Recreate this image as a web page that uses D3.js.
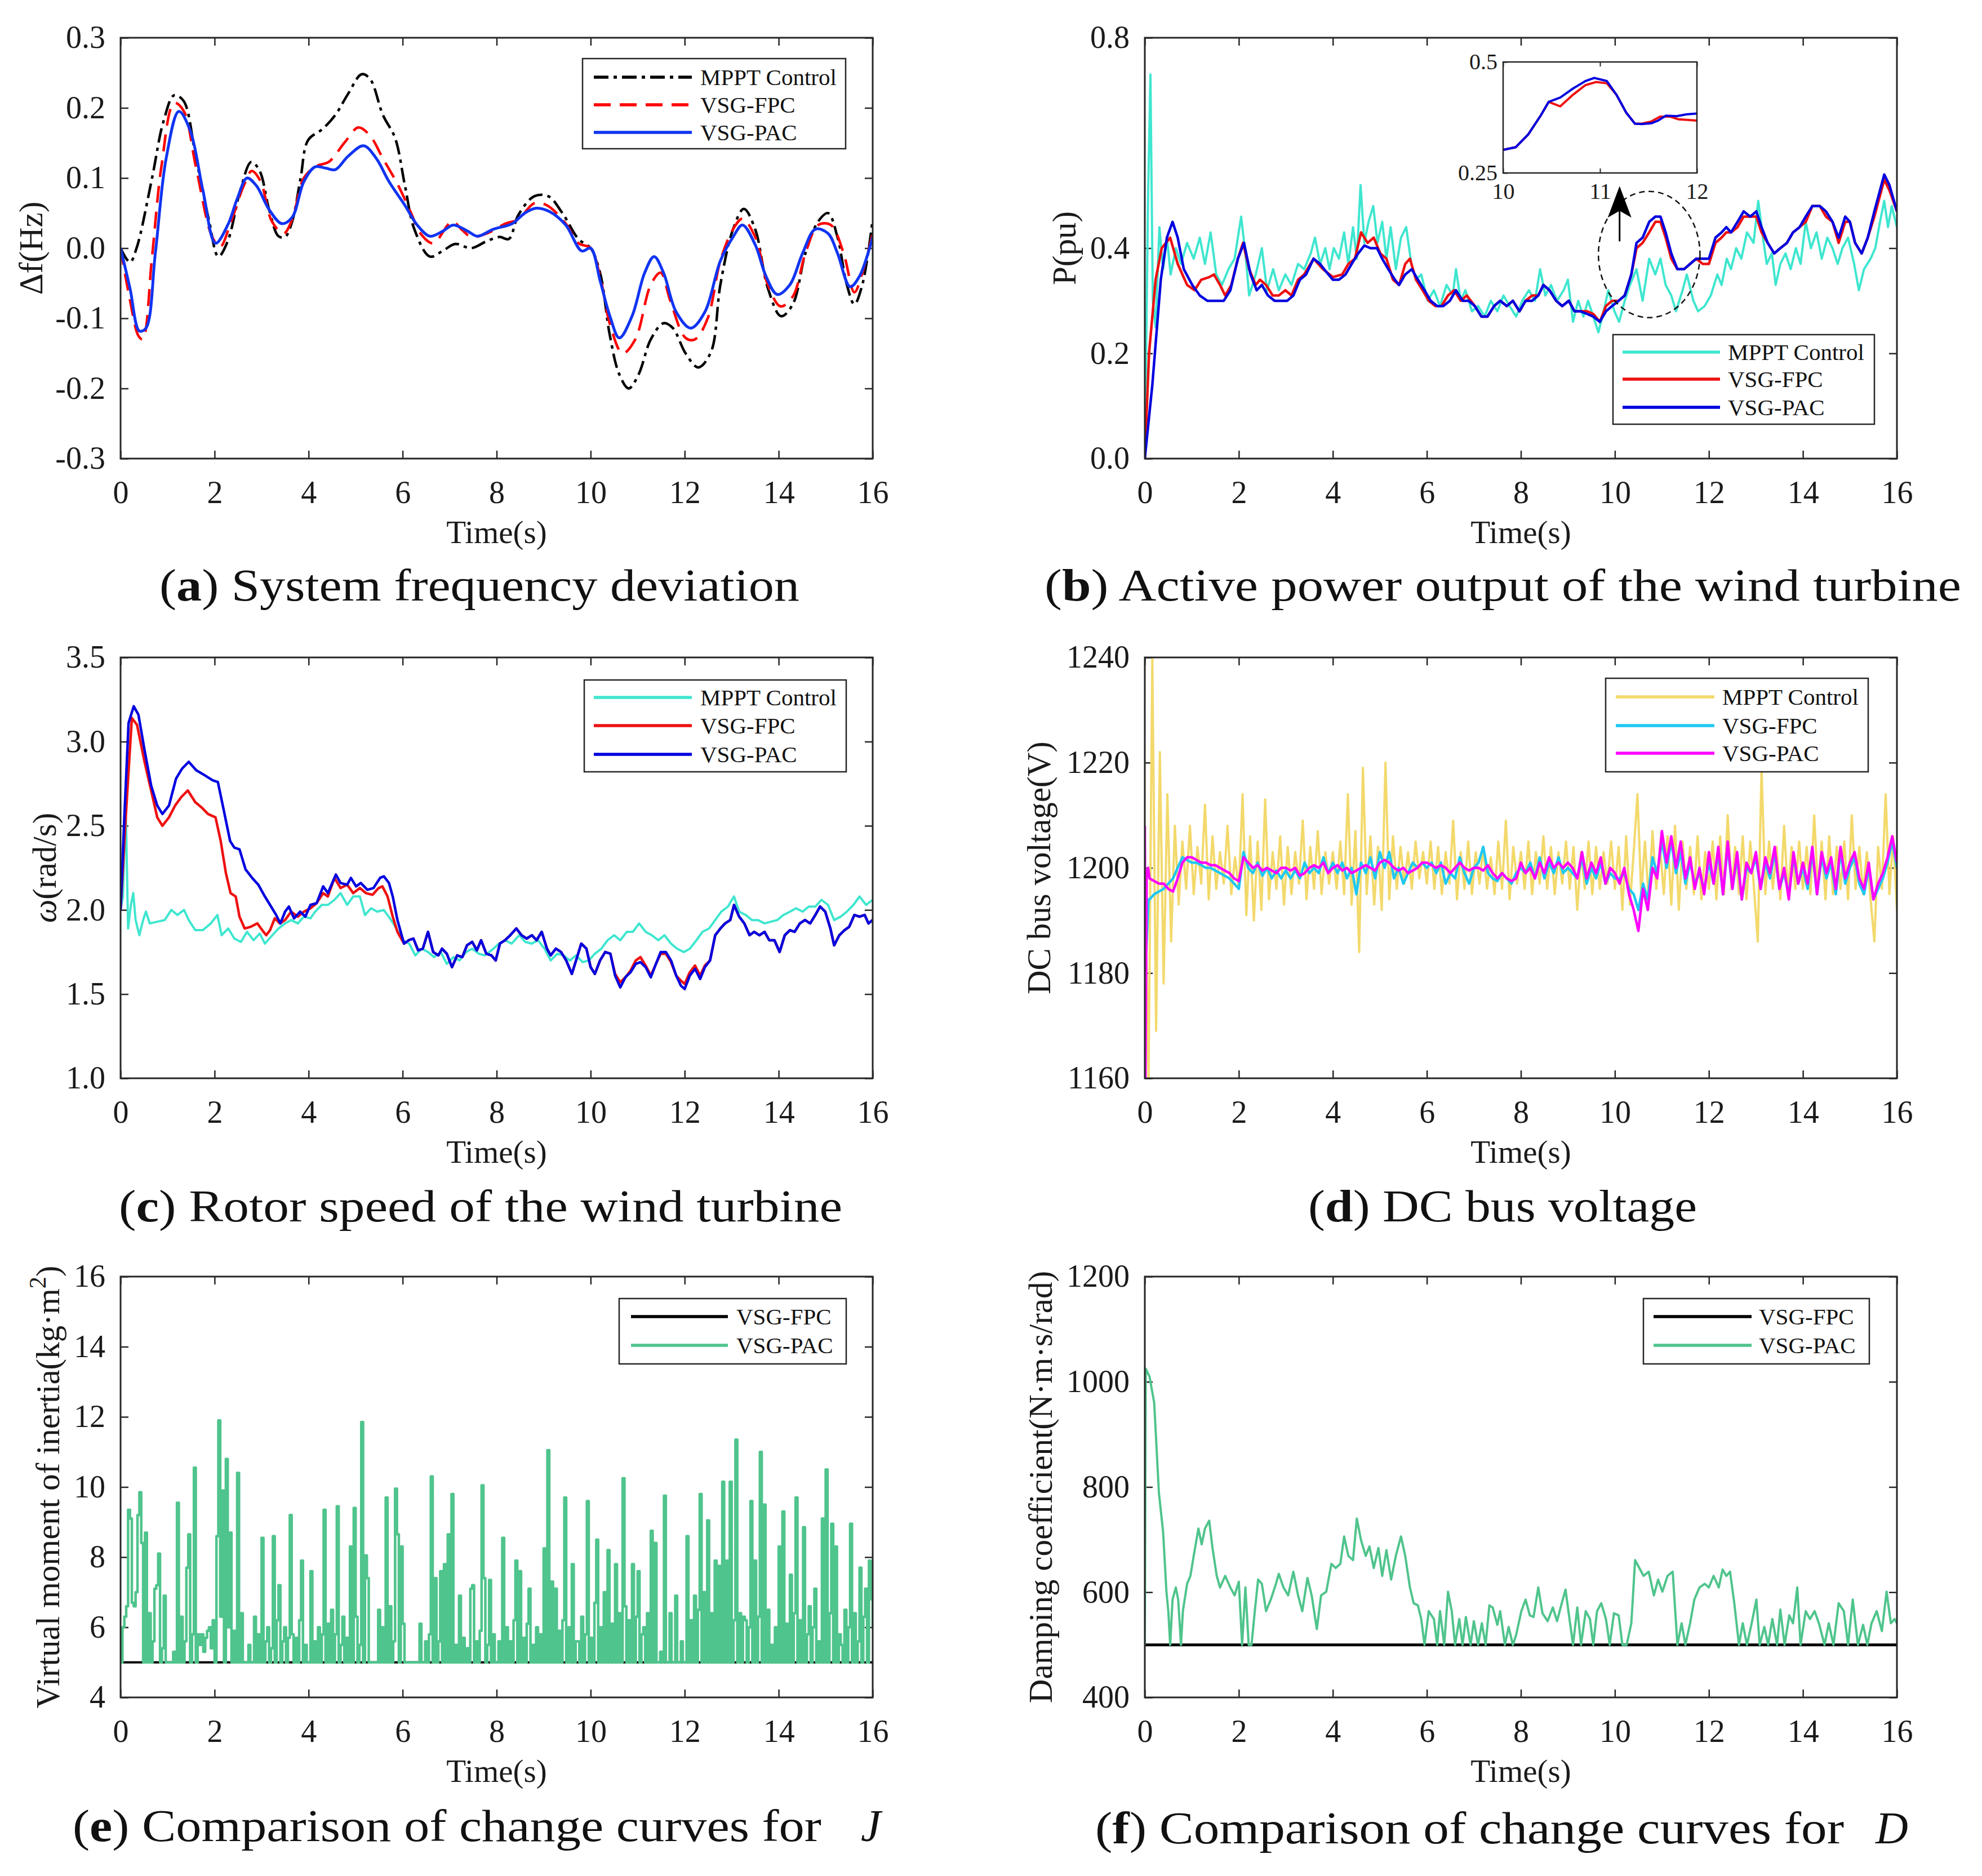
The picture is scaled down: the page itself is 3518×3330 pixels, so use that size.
<!DOCTYPE html>
<html>
<head>
<meta charset="utf-8">
<script src="https://cdn.jsdelivr.net/npm/d3@7"></script>
<style>
body { margin: 0; background: #fff; }
</style>
</head>
<body>
<svg id="fig"></svg>
<script>
// ---------- shared ticks ----------
var timeTicks = [0, 2, 4, 6, 8, 10, 12, 14, 16];

// ---------- (a) system frequency deviation, [t, Hz] ----------
var freqMppt = [[0,0],[0.2,-0.02],[0.34,0],[0.67,0.1],[0.91,0.18],[1.14,0.218],[1.34,0.21],[1.6,0.13],[1.88,0.04],[2.08,-0.012],[2.28,0.01],[2.55,0.083],[2.78,0.123],[2.96,0.11],[3.16,0.055],[3.36,0.017],[3.5,0.016],[3.65,0.038],[3.83,0.1],[3.99,0.154],[4.3,0.17],[4.57,0.19],[4.84,0.22],[5.13,0.248],[5.31,0.241],[5.58,0.19],[5.84,0.157],[6.05,0.089],[6.25,0.027],[6.58,-0.012],[6.85,-0.004],[7.12,0.006],[7.46,0],[7.79,0.01],[8.06,0.016],[8.26,0.013],[8.46,0.047],[8.8,0.074],[9.1,0.074],[9.4,0.05],[9.74,0.013],[10,0],[10.2,-0.035],[10.41,-0.125],[10.61,-0.18],[10.81,-0.2],[11.02,-0.18],[11.28,-0.13],[11.55,-0.107],[11.75,-0.114],[12.02,-0.15],[12.29,-0.17],[12.56,-0.148],[12.76,-0.052],[13.03,0.027],[13.26,0.056],[13.5,0.027],[13.77,-0.057],[14.05,-0.097],[14.3,-0.08],[14.57,-0.007],[14.84,0.038],[15.05,0.05],[15.25,0.016],[15.45,-0.052],[15.61,-0.08],[15.78,-0.052],[16,0.041]];
var freqFpc = [[0,0],[0.2,-0.074],[0.38,-0.125],[0.47,-0.13],[0.67,-0.012],[0.87,0.117],[1.14,0.207],[1.34,0.196],[1.6,0.117],[1.95,0.016],[2.12,0.002],[2.35,0.038],[2.62,0.089],[2.79,0.11],[2.98,0.095],[3.22,0.038],[3.47,0.021],[3.65,0.041],[3.9,0.1],[4.16,0.117],[4.43,0.123],[4.77,0.151],[5.06,0.172],[5.31,0.16],[5.58,0.128],[5.91,0.089],[6.18,0.05],[6.38,0.021],[6.65,0.007],[7.05,0.038],[7.25,0.027],[7.46,0.016],[7.79,0.021],[8.19,0.035],[8.46,0.041],[8.8,0.064],[9.07,0.061],[9.47,0.035],[9.74,0.007],[10,0],[10.2,-0.04],[10.41,-0.108],[10.68,-0.15],[10.95,-0.13],[11.28,-0.052],[11.49,-0.035],[11.69,-0.074],[12.02,-0.128],[12.22,-0.13],[12.49,-0.1],[12.76,-0.018],[13.03,0.027],[13.23,0.042],[13.5,0.016],[13.77,-0.052],[14.04,-0.083],[14.3,-0.069],[14.57,-0.007],[14.84,0.033],[15.11,0.033],[15.38,-0.007],[15.61,-0.063],[15.78,-0.035],[16,0.021]];
var freqPac = [[0,0],[0.2,-0.057],[0.4,-0.118],[0.54,-0.114],[0.74,-0.007],[0.97,0.128],[1.24,0.195],[1.48,0.168],[1.75,0.083],[2.02,0.007],[2.28,0.033],[2.49,0.072],[2.69,0.1],[2.89,0.089],[3.16,0.055],[3.43,0.035],[3.65,0.044],[3.9,0.095],[4.14,0.116],[4.37,0.114],[4.57,0.112],[4.84,0.131],[5.17,0.146],[5.44,0.128],[5.71,0.095],[6.05,0.061],[6.31,0.033],[6.58,0.017],[6.85,0.024],[7.08,0.033],[7.39,0.024],[7.59,0.017],[7.93,0.027],[8.33,0.035],[8.6,0.05],[8.84,0.057],[9.13,0.052],[9.47,0.033],[9.81,-0.004],[10,0],[10.2,-0.046],[10.41,-0.097],[10.61,-0.128],[10.88,-0.097],[11.15,-0.035],[11.35,-0.012],[11.55,-0.035],[11.82,-0.091],[12.13,-0.114],[12.43,-0.091],[12.76,-0.018],[13.03,0.016],[13.23,0.033],[13.5,0.005],[13.73,-0.04],[13.97,-0.066],[14.24,-0.052],[14.51,-0.007],[14.78,0.027],[15.05,0.021],[15.25,-0.007],[15.52,-0.055],[15.72,-0.04],[16,0.016]];
var freqTicks = [-0.3, -0.2, -0.1, 0, 0.1, 0.2, 0.3];

// ---------- (b) active power, [t, pu] ----------
var powMppt = [[0,0],[0.07,0.5],[0.12,0.73],[0.17,0.3],[0.23,0.25],[0.31,0.44],[0.39,0.36],[0.47,0.42],[0.55,0.35],[0.66,0.40],[0.77,0.37],[0.9,0.41],[1.04,0.38],[1.17,0.42],[1.28,0.37],[1.4,0.43],[1.52,0.35],[1.64,0.33],[1.78,0.36],[1.91,0.38],[2.05,0.46],[2.14,0.39],[2.22,0.31],[2.36,0.35],[2.49,0.40],[2.6,0.32],[2.73,0.36],[2.85,0.32],[2.99,0.35],[3.12,0.33],[3.26,0.37],[3.39,0.36],[3.53,0.39],[3.62,0.42],[3.73,0.37],[3.84,0.40],[3.93,0.36],[4.02,0.40],[4.13,0.38],[4.24,0.43],[4.33,0.37],[4.43,0.44],[4.51,0.38],[4.59,0.52],[4.67,0.41],[4.76,0.45],[4.86,0.48],[4.95,0.41],[5.05,0.45],[5.14,0.38],[5.23,0.44],[5.34,0.36],[5.45,0.42],[5.56,0.44],[5.67,0.37],[5.77,0.34],[5.88,0.35],[6.02,0.30],[6.15,0.32],[6.28,0.29],[6.42,0.33],[6.55,0.31],[6.62,0.36],[6.72,0.30],[6.82,0.32],[6.96,0.28],[7.09,0.29],[7.23,0.27],[7.36,0.30],[7.5,0.28],[7.63,0.31],[7.76,0.29],[7.9,0.27],[8.03,0.30],[8.17,0.32],[8.3,0.30],[8.41,0.36],[8.52,0.31],[8.64,0.33],[8.77,0.30],[8.91,0.32],[9.0,0.34],[9.11,0.26],[9.22,0.30],[9.33,0.27],[9.43,0.30],[9.54,0.27],[9.65,0.24],[9.76,0.28],[9.86,0.32],[9.99,0.28],[10.09,0.26],[10.21,0.30],[10.32,0.33],[10.46,0.36],[10.59,0.30],[10.73,0.38],[10.86,0.35],[10.97,0.38],[11.08,0.33],[11.2,0.31],[11.3,0.28],[11.44,0.32],[11.53,0.35],[11.67,0.30],[11.77,0.28],[11.91,0.29],[12.04,0.31],[12.18,0.35],[12.27,0.33],[12.38,0.38],[12.47,0.36],[12.58,0.40],[12.69,0.38],[12.81,0.43],[12.95,0.41],[13.05,0.49],[13.15,0.42],[13.23,0.37],[13.34,0.39],[13.42,0.33],[13.52,0.37],[13.63,0.39],[13.74,0.36],[13.85,0.40],[13.95,0.37],[14.06,0.45],[14.17,0.40],[14.29,0.43],[14.4,0.38],[14.52,0.42],[14.63,0.40],[14.74,0.37],[14.84,0.40],[14.96,0.42],[15.09,0.37],[15.19,0.32],[15.3,0.36],[15.44,0.38],[15.54,0.40],[15.64,0.45],[15.73,0.49],[15.81,0.44],[15.89,0.48],[16,0.44]];
var powFpc = [[0,0],[0.09,0.2],[0.23,0.34],[0.36,0.40],[0.54,0.42],[0.7,0.37],[0.9,0.33],[1.06,0.32],[1.2,0.34],[1.37,0.345],[1.47,0.35],[1.6,0.33],[1.71,0.31],[1.84,0.33],[1.98,0.38],[2.09,0.41],[2.22,0.36],[2.36,0.33],[2.45,0.34],[2.58,0.33],[2.72,0.31],[2.85,0.31],[2.99,0.32],[3.12,0.31],[3.26,0.34],[3.39,0.35],[3.59,0.38],[3.79,0.36],[4.0,0.345],[4.2,0.35],[4.33,0.37],[4.47,0.38],[4.6,0.43],[4.74,0.41],[4.87,0.42],[5.01,0.39],[5.14,0.38],[5.28,0.34],[5.41,0.33],[5.54,0.37],[5.64,0.38],[5.77,0.34],[5.91,0.32],[6.04,0.30],[6.18,0.29],[6.31,0.29],[6.45,0.31],[6.58,0.32],[6.72,0.30],[6.85,0.31],[7.02,0.29],[7.16,0.27],[7.29,0.27],[7.43,0.29],[7.56,0.30],[7.7,0.29],[7.83,0.30],[7.97,0.28],[8.1,0.30],[8.24,0.31],[8.37,0.31],[8.48,0.33],[8.61,0.32],[8.75,0.30],[8.88,0.29],[9.02,0.30],[9.14,0.28],[9.27,0.28],[9.41,0.28],[9.54,0.275],[9.68,0.26],[9.81,0.29],[9.94,0.30],[10.08,0.30],[10.21,0.31],[10.35,0.35],[10.46,0.40],[10.59,0.41],[10.73,0.43],[10.86,0.45],[10.97,0.45],[11.08,0.42],[11.2,0.38],[11.33,0.36],[11.47,0.36],[11.6,0.37],[11.73,0.38],[11.87,0.37],[12.0,0.37],[12.14,0.41],[12.27,0.42],[12.37,0.43],[12.47,0.43],[12.61,0.44],[12.74,0.46],[12.88,0.46],[13.01,0.46],[13.12,0.43],[13.25,0.41],[13.39,0.39],[13.52,0.40],[13.66,0.41],[13.79,0.43],[13.93,0.44],[14.06,0.45],[14.2,0.48],[14.36,0.48],[14.49,0.46],[14.63,0.45],[14.76,0.41],[14.9,0.45],[15.0,0.45],[15.11,0.41],[15.25,0.39],[15.38,0.42],[15.52,0.46],[15.64,0.50],[15.73,0.53],[15.84,0.51],[16,0.47]];
var powPac = [[0,0],[0.16,0.14],[0.34,0.34],[0.47,0.42],[0.59,0.45],[0.7,0.42],[0.83,0.36],[1.01,0.33],[1.17,0.31],[1.33,0.30],[1.51,0.30],[1.68,0.30],[1.82,0.32],[1.98,0.38],[2.11,0.41],[2.25,0.35],[2.38,0.32],[2.49,0.33],[2.62,0.31],[2.76,0.30],[2.89,0.30],[3.03,0.30],[3.16,0.31],[3.3,0.34],[3.43,0.35],[3.59,0.38],[3.73,0.37],[3.86,0.355],[4.0,0.34],[4.13,0.34],[4.27,0.35],[4.4,0.37],[4.54,0.39],[4.67,0.405],[4.8,0.40],[4.94,0.40],[5.05,0.38],[5.18,0.36],[5.32,0.34],[5.41,0.33],[5.54,0.35],[5.68,0.36],[5.81,0.34],[5.95,0.32],[6.08,0.30],[6.22,0.29],[6.35,0.29],[6.49,0.30],[6.62,0.32],[6.76,0.30],[6.89,0.30],[7.02,0.29],[7.16,0.27],[7.29,0.27],[7.43,0.29],[7.56,0.30],[7.7,0.29],[7.83,0.30],[7.97,0.28],[8.1,0.30],[8.24,0.30],[8.37,0.31],[8.48,0.33],[8.61,0.32],[8.75,0.30],[8.88,0.29],[9.02,0.30],[9.14,0.28],[9.27,0.28],[9.41,0.275],[9.54,0.27],[9.68,0.26],[9.81,0.28],[9.94,0.29],[10.08,0.30],[10.21,0.31],[10.35,0.35],[10.46,0.41],[10.59,0.42],[10.73,0.45],[10.86,0.46],[10.97,0.46],[11.08,0.43],[11.2,0.39],[11.33,0.36],[11.47,0.36],[11.6,0.37],[11.73,0.38],[11.87,0.38],[12.0,0.38],[12.14,0.42],[12.27,0.43],[12.37,0.44],[12.47,0.43],[12.61,0.45],[12.74,0.47],[12.88,0.46],[13.01,0.47],[13.12,0.44],[13.25,0.41],[13.39,0.39],[13.52,0.40],[13.66,0.41],[13.79,0.43],[13.93,0.44],[14.06,0.46],[14.2,0.48],[14.36,0.48],[14.49,0.47],[14.63,0.45],[14.76,0.42],[14.9,0.46],[15.0,0.45],[15.11,0.41],[15.25,0.39],[15.38,0.42],[15.52,0.47],[15.64,0.51],[15.73,0.54],[15.84,0.52],[16,0.47]];
var powTicks = [0, 0.2, 0.4, 0.8];
// zoomed inset, 10 s to 12 s
var insetFpc = [[10,0.302],[10.13,0.308],[10.26,0.337],[10.39,0.38],[10.47,0.41],[10.59,0.40],[10.72,0.426],[10.85,0.448],[10.96,0.455],[11.07,0.452],[11.17,0.426],[11.27,0.386],[11.36,0.361],[11.43,0.361],[11.53,0.366],[11.62,0.377],[11.72,0.377],[11.81,0.371],[12,0.368]];
var insetPac = [[10,0.302],[10.13,0.308],[10.26,0.337],[10.39,0.38],[10.47,0.41],[10.59,0.42],[10.72,0.44],[10.85,0.457],[10.94,0.464],[11.07,0.457],[11.17,0.426],[11.27,0.386],[11.36,0.361],[11.43,0.36],[11.53,0.362],[11.6,0.368],[11.68,0.379],[11.79,0.378],[11.89,0.382],[12,0.384]];
var insetXTicks = [10, 11, 12];
var insetYTicks = [0.25, 0.5];

// ---------- (c) rotor speed, [t, rad/s] ----------
var rotMppt = [[0,2.0],[0.05,2.08],[0.11,2.62],[0.16,1.89],[0.22,2.03],[0.27,2.1],[0.32,1.94],[0.4,1.85],[0.48,1.94],[0.54,1.99],[0.62,1.92],[0.78,1.93],[0.94,1.94],[1.08,2.0],[1.21,1.97],[1.35,2.0],[1.45,1.94],[1.59,1.88],[1.75,1.88],[1.92,1.92],[2.06,1.97],[2.15,1.85],[2.29,1.89],[2.42,1.83],[2.56,1.81],[2.69,1.87],[2.83,1.82],[2.96,1.86],[3.07,1.80],[3.23,1.85],[3.36,1.89],[3.5,1.92],[3.63,1.94],[3.77,1.92],[3.9,1.96],[4.04,1.95],[4.14,1.99],[4.28,2.03],[4.41,2.03],[4.55,2.06],[4.68,2.1],[4.82,2.03],[4.95,2.08],[5.09,2.08],[5.2,1.97],[5.33,2.01],[5.46,1.99],[5.6,2.0],[5.73,1.95],[5.87,1.89],[6.0,1.82],[6.14,1.80],[6.27,1.73],[6.41,1.77],[6.54,1.75],[6.67,1.72],[6.81,1.75],[6.94,1.68],[7.08,1.72],[7.21,1.70],[7.35,1.75],[7.48,1.77],[7.62,1.74],[7.75,1.73],[7.89,1.76],[8.05,1.80],[8.18,1.82],[8.32,1.80],[8.48,1.85],[8.61,1.81],[8.75,1.80],[8.88,1.82],[9.02,1.77],[9.15,1.70],[9.29,1.74],[9.42,1.73],[9.56,1.70],[9.69,1.73],[9.83,1.69],[9.96,1.70],[10.09,1.74],[10.23,1.77],[10.36,1.82],[10.5,1.85],[10.63,1.82],[10.77,1.87],[10.9,1.87],[11.03,1.92],[11.17,1.87],[11.3,1.85],[11.44,1.82],[11.57,1.85],[11.71,1.80],[11.84,1.77],[11.98,1.75],[12.11,1.77],[12.25,1.82],[12.38,1.87],[12.52,1.89],[12.65,1.94],[12.78,1.99],[12.92,2.02],[13.05,2.08],[13.16,1.99],[13.3,1.97],[13.43,1.94],[13.56,1.94],[13.7,1.92],[13.83,1.93],[13.97,1.94],[14.1,1.97],[14.24,1.99],[14.37,2.01],[14.51,1.99],[14.64,2.02],[14.78,2.02],[14.91,2.06],[15.05,2.03],[15.18,1.94],[15.32,1.96],[15.45,1.99],[15.59,2.03],[15.72,2.08],[15.86,2.03],[16,2.06]];
var rotFpc = [[0,2.0],[0.11,2.55],[0.24,3.14],[0.35,3.1],[0.51,2.88],[0.65,2.71],[0.78,2.55],[0.89,2.5],[1.03,2.55],[1.16,2.62],[1.29,2.67],[1.43,2.71],[1.59,2.64],[1.72,2.61],[1.86,2.57],[2.02,2.55],[2.13,2.41],[2.24,2.22],[2.34,2.1],[2.45,2.08],[2.53,1.96],[2.64,1.89],[2.77,1.9],[2.91,1.92],[3.04,1.87],[3.1,1.85],[3.18,1.88],[3.28,1.95],[3.39,1.92],[3.5,1.94],[3.63,1.99],[3.77,1.96],[3.9,1.99],[4.04,2.01],[4.17,2.04],[4.31,2.1],[4.41,2.08],[4.55,2.19],[4.68,2.13],[4.82,2.15],[4.95,2.1],[5.09,2.13],[5.22,2.1],[5.36,2.09],[5.49,2.13],[5.57,2.14],[5.68,2.08],[5.79,1.96],[5.89,1.87],[6.03,1.80],[6.13,1.82],[6.23,1.83],[6.33,1.76],[6.43,1.77],[6.54,1.87],[6.65,1.75],[6.76,1.73],[6.84,1.77],[6.94,1.74],[7.05,1.66],[7.16,1.73],[7.27,1.72],[7.37,1.79],[7.48,1.81],[7.58,1.76],[7.67,1.82],[7.78,1.74],[7.89,1.73],[7.98,1.70],[8.07,1.80],[8.18,1.82],[8.29,1.85],[8.42,1.89],[8.53,1.85],[8.64,1.83],[8.75,1.85],[8.85,1.82],[8.96,1.87],[9.07,1.77],[9.15,1.73],[9.26,1.77],[9.37,1.75],[9.48,1.70],[9.6,1.62],[9.69,1.70],[9.8,1.80],[9.91,1.77],[10.0,1.66],[10.09,1.62],[10.2,1.70],[10.31,1.75],[10.42,1.74],[10.52,1.62],[10.63,1.57],[10.74,1.60],[10.85,1.64],[10.96,1.70],[11.06,1.72],[11.17,1.67],[11.28,1.61],[11.39,1.68],[11.49,1.74],[11.6,1.74],[11.71,1.69],[11.82,1.61],[11.92,1.58],[12.0,1.56],[12.11,1.63],[12.22,1.67],[12.33,1.61],[12.43,1.67],[12.54,1.70],[12.65,1.85],[12.76,1.89],[12.86,1.92],[12.97,1.94],[13.05,2.03],[13.16,1.96],[13.27,1.92],[13.38,1.85],[13.48,1.87],[13.59,1.85],[13.7,1.87],[13.8,1.82],[13.91,1.82],[14.02,1.75],[14.13,1.85],[14.24,1.88],[14.34,1.87],[14.45,1.92],[14.56,1.94],[14.67,1.92],[14.78,1.97],[14.88,2.02],[14.99,1.99],[15.1,1.89],[15.18,1.79],[15.29,1.85],[15.4,1.88],[15.5,1.90],[15.61,1.97],[15.72,1.96],[15.83,1.97],[15.91,1.92],[16,1.94]];
var rotPac = [[0,2.0],[0.08,2.55],[0.17,3.11],[0.28,3.21],[0.38,3.16],[0.51,2.95],[0.65,2.74],[0.78,2.62],[0.89,2.57],[1.03,2.62],[1.18,2.78],[1.31,2.84],[1.45,2.88],[1.61,2.83],[1.79,2.80],[1.96,2.77],[2.07,2.76],[2.19,2.60],[2.33,2.41],[2.42,2.37],[2.53,2.36],[2.66,2.24],[2.8,2.19],[2.93,2.15],[3.07,2.08],[3.18,2.03],[3.31,1.97],[3.4,1.92],[3.5,1.99],[3.58,2.02],[3.69,1.95],[3.82,1.99],[3.93,1.96],[4.04,2.03],[4.17,2.04],[4.31,2.14],[4.41,2.1],[4.58,2.21],[4.68,2.16],[4.82,2.15],[4.9,2.19],[5.01,2.14],[5.11,2.16],[5.25,2.12],[5.38,2.13],[5.52,2.19],[5.6,2.2],[5.71,2.16],[5.79,2.08],[5.89,1.94],[6.03,1.80],[6.13,1.82],[6.23,1.83],[6.33,1.76],[6.43,1.77],[6.54,1.87],[6.65,1.75],[6.76,1.73],[6.84,1.77],[6.94,1.74],[7.05,1.66],[7.16,1.73],[7.27,1.72],[7.37,1.79],[7.48,1.81],[7.58,1.76],[7.67,1.82],[7.78,1.74],[7.89,1.73],[7.98,1.70],[8.07,1.80],[8.18,1.82],[8.29,1.85],[8.42,1.89],[8.53,1.85],[8.64,1.83],[8.75,1.85],[8.85,1.82],[8.96,1.87],[9.07,1.77],[9.15,1.73],[9.26,1.77],[9.37,1.75],[9.48,1.70],[9.6,1.62],[9.69,1.70],[9.8,1.80],[9.91,1.77],[10.0,1.66],[10.09,1.62],[10.2,1.70],[10.31,1.75],[10.42,1.74],[10.52,1.61],[10.63,1.54],[10.74,1.60],[10.85,1.63],[10.96,1.68],[11.06,1.69],[11.17,1.66],[11.28,1.60],[11.39,1.68],[11.49,1.75],[11.6,1.75],[11.71,1.70],[11.82,1.61],[11.92,1.55],[12.0,1.53],[12.11,1.61],[12.22,1.65],[12.33,1.59],[12.43,1.66],[12.54,1.70],[12.65,1.85],[12.76,1.89],[12.86,1.92],[12.97,1.94],[13.05,2.03],[13.16,1.96],[13.27,1.92],[13.38,1.85],[13.48,1.87],[13.59,1.85],[13.7,1.87],[13.8,1.82],[13.91,1.82],[14.02,1.75],[14.13,1.85],[14.24,1.88],[14.34,1.87],[14.45,1.92],[14.56,1.94],[14.67,1.92],[14.78,1.97],[14.88,2.02],[14.99,1.99],[15.1,1.89],[15.18,1.79],[15.29,1.85],[15.4,1.88],[15.5,1.90],[15.61,1.97],[15.72,1.96],[15.83,1.97],[15.91,1.92],[16,1.94]];
var rotTicks = [1.0, 1.5, 2.0, 2.5, 3.0, 3.5];

// ---------- (d) DC bus voltage ----------
// MPPT sampled every 0.08 s from t = 0
var busMpptStep = 0.08;
var busMppt = [1200,1160,1240,1169,1222,1178,1214,1186,1208,1193,1205,1196,1208,1195,1204,1197,1212,1194,1206,1196,1203,1197,1208,1195,1202,
  1196,1214,1191,1206,1190,1205,1192,1213,1194,1203,1196,1206,1193,1204,1195,1203,1197,1209,1194,1204,1196,1207,1195,1203,1197,
  1203,1196,1205,1195,1214,1193,1207,1184,1219,1195,1206,1193,1204,1192,1220,1194,1206,1196,1204,1197,1203,1196,1205,1198,1203,
  1197,1205,1196,1204,1195,1203,1197,1209,1194,1203,1196,1205,1195,1203,1197,1204,1196,1202,1195,1205,1196,1209,1194,1204,1197,
  1203,1196,1205,1195,1203,1197,1206,1196,1204,1195,1203,1197,1205,1196,1204,1192,1203,1196,1205,1195,1204,1196,1203,1197,1205,
  1196,1204,1192,1206,1193,1203,1214,1195,1205,1194,1207,1196,1204,1195,1206,1193,1208,1192,1205,1196,1204,1195,1206,1194,1203,
  1196,1205,1194,1206,1195,1210,1196,1204,1195,1206,1194,1205,1196,1186,1219,1195,1205,1196,1204,1194,1208,1195,1204,1196,1205,
  1196,1204,1195,1210,1196,1205,1194,1206,1195,1204,1196,1205,1194,1210,1196,1204,1195,1203,1194,1186,1204,1196,1214,1195,1206,
  1192];
// VSG curves: start transient, then every 0.1 s from 0.1 s
var busStep = 0.1;
var busFpcStart = [[0,1200],[0.03,1184],[0.08,1194]];
var busFpc = [1194,1195,1195.5,1196,1197,1198,1200,1202,1201.5,1201,
  1201,1200.5,1200,1200,1199.5,1199,1198.5,1198,1197,1196,
  1203,1200,1199,1201,1198.5,1200,1198,1199.5,1198,1199.5,
  1198,1199.5,1198,1201,1199,1200,1199,1202,1199,1201,
  1199,1201,1198,1200,1195,1201,1199,1202,1198,1203,
  1200,1203,1198,1200,1197,1199,1201,1200,1201,1200,
  1201,1199,1201,1197,1199,1198,1202,1199,1197,1200,
  1201,1204,1199,1198,1197.5,1199,1198,1197,1199,1200,
  1199,1201,1198,1202,1198,1201,1199,1202,1199,1200,
  1199,1198,1202,1197,1200,1198,1201,1197,1199,1198,
  1198,1199,1196,1195,1192,1197,1194,1202,1199,1205,
  1200,1205,1199,1203,1197,1201,1197,1199,1196,1201,
  1197,1203,1195,1204,1196,1202,1194,1200,1199,1202,
  1196,1201,1198,1203,1196,1199,1195,1202,1197,1200,
  1196,1203,1195,1202,1198,1201,1195,1203,1197,1200,
  1202,1197,1195,1200,1194,1196,1198,1201,1205,1200];
var busPacStart = [[0,1208],[0.015,1160],[0.04,1199],[0.07,1200]];
var busPac = [1198,1197.5,1197,1197,1196,1195.5,1198,1201,1202,1202,
  1201.5,1201,1201,1200.5,1200.5,1200,1199.5,1199,1198,1197.5,
  1202,1201,1200,1200.5,1199.5,1200,1199.5,1199,1200,1200,
  1199.5,1200,1198.5,1199,1200,1200.5,1200,1201,1199,1200,
  1200.5,1199.5,1200,1199,1199.5,1200,1200.5,1200,1199.5,1201,
  1201.5,1201,1200,1199.5,1200,1199,1199.5,1200,1201,1201,
  1200.5,1200,1200.5,1200,1199,1200,1201,1200,1199.5,1200,
  1200,1199.5,1200.5,1199,1198,1199,1198,1197.5,1198,1201,
  1199,1200,1198,1201,1199,1202,1200,1201,1200,1201,
  1200,1198,1203,1198,1201,1199,1202,1197,1200,1199,
  1197,1200,1195,1192,1188,1196,1192,1200,1198,1207,
  1201,1206,1200,1205,1198,1202,1196,1200,1195,1203,
  1197,1204,1195,1205,1196,1203,1194,1201,1199,1203,
  1196,1202,1199,1204,1196,1200,1194,1203,1197,1201,
  1197,1204,1195,1203,1199,1202,1196,1204,1198,1201,
  1203,1198,1196,1201,1194,1197,1199,1202,1206,1201];
var busTicks = [1160, 1180, 1200, 1220, 1240];

// ---------- (e) virtual inertia J ----------
var inertiaFpc = [[0,5],[16,5]];
var inertiaStep = 0.04; // VSG-PAC sampled every 0.04 s
var inertiaPac = [5,6.0,6.3,6.6,9.35,9.1,6.7,6.6,7.0,9.2,9.85,8.4,5,8.7,5,6.4,5,5.6,7.1,7.2,8.1,5,5.4,6.9,5,
  5,5,5,5.3,5,9.55,5,6.3,5,5.6,7.7,8.65,5,5.8,10.55,5,5.8,5.5,5.8,5.3,5.7,5.9,6.0,5.4,6.2,
  5,8.6,11.9,6.3,9.9,5,10.8,6.0,8.7,5,5.9,5,10.4,5,6.4,5,5,5,5.5,5,5,6.3,5,5.8,5,
  8.55,5,5.6,6.0,5,5.4,8.6,5,6.2,7.2,5,5.6,6.0,5,5.7,9.2,5.8,5,5.7,5,6.2,7.9,5,5.5,5,
  5,7.6,5,5.6,5,6.0,5,5.8,9.35,5,6.1,5,6.5,5,5.8,9.45,5,5.5,6.3,5,5.7,5,8.3,5,9.4,
  6.3,5,5.5,11.85,5,8.05,7.4,5,5,5,5,5,6.5,5,6.0,5,9.7,5,6.6,5,5.6,9.95,8.65,5,8.3,
  6.1,5,5,5,5,5,5,5,5,6.1,5,5,5.6,5,5.8,10.3,5,7.4,5,5.6,7.6,5,7.8,5,8.65,
  5,9.8,5,5.5,5,6.9,5,5.7,5,5.4,5,7.1,7.2,5,5.6,5,5.9,10.05,7.4,5,5.5,7.35,5,5.8,5,
  5,5.6,5,8.55,5,6.0,5,5.6,5,6.2,7.9,5,7.6,5,5.7,5,6.1,7.1,5,5.5,5,6.0,5,5.8,5,
  8.25,5,11.05,5,7.3,5,7.1,5,5.9,5,6.2,9.7,5,6.0,5,7.8,5,5.6,5.6,5,6.3,5,5.8,9.6,5,
  5.7,5,6.7,8.5,5,6.0,5,7.0,5,8.2,5,6.1,5,7.8,5,6.4,5,10.25,6.6,5,6.2,5,7.8,5,6.3,
  7.6,5,5.8,6.0,5,6.4,5,8.75,5,8.4,5,5,5.3,5,9.75,5,5,6.4,5,5,6.9,5,5,5.6,5,
  5,8.6,5,6.2,5,6.9,5,6.5,9.8,5,7.0,5,9.05,5,6.4,5,7.9,5,7.75,5,10.15,5,7.9,5,10.15,
  5,6.2,11.35,5,6.4,5,6.3,6.2,5,6.0,9.6,5,7.9,5,6.3,11.0,5,9.5,5,6.5,5,5.5,5,6.0,5,
  8.3,5,9.3,5,6.1,5,7.5,5,6.4,9.7,5,6.2,5,8.85,5,5.8,6.6,5,6.0,7.1,5,5.6,5,9.1,5,
  10.5,5,6.4,8.95,5,8.3,5,5.8,5.5,5,6.5,5,6.0,8.95,5,6.4,5,5.6,7.7,5,6.3,7.1,5,7.9,6.8,
  6.0];
var inertiaTicks = [4, 6, 8, 10, 12, 14, 16];

// ---------- (f) damping coefficient D ----------
var dampFpc = [[0,500],[16,500]];
var dampPac = [[0,500],[0.02,1025],[0.1,1010],[0.2,960],[0.3,789],[0.39,714],[0.46,601],[0.5,564],[0.54,500],[0.59,586],[0.66,609],[0.71,586],[0.77,500],[0.81,564],[0.9,616],[0.97,631],[1.04,669],[1.14,721],[1.21,691],[1.28,721],[1.37,736],[1.44,684],[1.53,631],[1.6,609],[1.71,631],[1.82,609],[1.91,594],[2.0,620],[2.07,500],[2.14,609],[2.21,500],[2.27,500],[2.34,564],[2.41,624],[2.49,616],[2.58,564],[2.68,586],[2.79,616],[2.85,635],[2.95,609],[3.05,594],[3.16,639],[3.26,594],[3.35,564],[3.46,627],[3.55,594],[3.66,530],[3.75,594],[3.86,601],[3.97,654],[4.06,646],[4.16,654],[4.24,706],[4.33,669],[4.43,661],[4.51,740],[4.6,699],[4.7,669],[4.78,687],[4.87,646],[4.97,684],[5.05,631],[5.14,680],[5.24,624],[5.34,669],[5.45,706],[5.54,669],[5.64,609],[5.72,579],[5.81,575],[5.88,549],[5.95,500],[6.04,564],[6.15,549],[6.22,500],[6.28,564],[6.37,500],[6.45,601],[6.53,564],[6.6,500],[6.69,549],[6.76,500],[6.83,553],[6.93,500],[7.0,545],[7.09,500],[7.17,541],[7.25,500],[7.33,575],[7.4,571],[7.5,538],[7.56,564],[7.66,500],[7.74,534],[7.83,500],[7.9,519],[8.01,564],[8.1,586],[8.19,556],[8.27,553],[8.37,609],[8.46,560],[8.57,545],[8.68,571],[8.77,545],[8.87,579],[8.95,605],[9.04,545],[9.11,500],[9.2,571],[9.28,500],[9.38,564],[9.47,549],[9.54,500],[9.62,564],[9.71,579],[9.81,549],[9.89,500],[9.98,560],[10.08,556],[10.16,500],[10.25,500],[10.35,541],[10.43,661],[10.52,646],[10.61,631],[10.72,639],[10.83,594],[10.92,624],[11.01,601],[11.12,631],[11.23,639],[11.33,500],[11.42,541],[11.5,500],[11.6,541],[11.69,586],[11.8,609],[11.91,616],[12.0,609],[12.1,631],[12.21,609],[12.29,643],[12.37,631],[12.45,639],[12.54,579],[12.64,500],[12.72,541],[12.81,500],[12.91,541],[13.01,586],[13.08,500],[13.18,534],[13.26,500],[13.35,549],[13.45,500],[13.52,567],[13.61,500],[13.71,556],[13.79,541],[13.88,609],[13.95,500],[14.06,564],[14.15,549],[14.25,564],[14.35,538],[14.46,500],[14.55,541],[14.65,500],[14.76,579],[14.87,564],[14.96,500],[15.06,586],[15.17,500],[15.28,538],[15.37,500],[15.46,541],[15.57,564],[15.68,526],[15.78,601],[15.87,541],[15.95,549],[16,541]];
var dampTicks = [400, 600, 800, 1000, 1200];

// ---------- drawing ----------
var FONT = "'Liberation Serif', 'Times New Roman', serif";
var AXIS = "#262626";
var PW = 1335, PH = 747;

var svg = d3.select("#fig").attr("width", 3518).attr("height", 3330)
  .style("background", "#fff");

function onGrid(values, t0, step) {
  return values.map(function(v, i) { return [t0 + i * step, v]; });
}

var oneDec = function(d) { return d.toFixed(1); };
var intFmt = function(d) { return String(d); };

var panels = [
  { id: "a", x0: 214, y0: 67, yDomain: [-0.3, 0.3], yTicks: freqTicks, yFmt: oneDec,
    yLabel: [{t: "\u0394f(Hz)"}], yLabelX: -160,
    series: [
      { data: freqMppt, color: "#000000", width: 4.5, dash: "26,9,6,9", curve: d3.curveCatmullRom, label: "MPPT Control" },
      { data: freqFpc, color: "#ff0000", width: 4.5, dash: "30,16", curve: d3.curveCatmullRom, label: "VSG-FPC" },
      { data: freqPac, color: "#1034f2", width: 5, curve: d3.curveCatmullRom, label: "VSG-PAC" }
    ],
    legend: { x: 820, y: 37, w: 467, h: 160, lx1: 840, lx2: 1014, tx: 1029, rows: [70, 119, 168] },
    caption: { bold: "a", rest: " System frequency deviation", x: 283, y: 1066, len: 1136 } },
  { id: "b", x0: 2032, y0: 67, yDomain: [0, 0.8], yTicks: powTicks, yFmt: oneDec,
    yLabel: [{t: "P(pu)"}], yLabelX: -144,
    series: [
      { data: powMppt, color: "#3fe6cf", width: 4, label: "MPPT Control" },
      { data: powFpc, color: "#ee1111", width: 4.5, label: "VSG-FPC" },
      { data: powPac, color: "#0000e0", width: 4.5, label: "VSG-PAC" }
    ],
    legend: { x: 831, y: 527, w: 464, h: 159, lx1: 848, lx2: 1021, tx: 1035, rows: [558, 606, 656] },
    caption: { bold: "b", rest: " Active power output of the wind turbine", x: 1854, y: 1066, len: 1627 } },
  { id: "c", x0: 214, y0: 1167, yDomain: [1.0, 3.5], yTicks: rotTicks, yFmt: oneDec,
    yLabel: [{t: "\u03c9", italic: true}, {t: "(rad/s)"}], yLabelX: -136,
    series: [
      { data: rotMppt, color: "#3fe6cf", width: 4, label: "MPPT Control" },
      { data: rotFpc, color: "#ee1111", width: 4.5, label: "VSG-FPC" },
      { data: rotPac, color: "#0000e0", width: 4.5, label: "VSG-PAC" }
    ],
    legend: { x: 823, y: 40, w: 465, h: 163, lx1: 840, lx2: 1014, tx: 1029, rows: [71, 121, 172] },
    caption: { bold: "c", rest: " Rotor speed of the wind turbine", x: 211, y: 2168, len: 1284 } },
  { id: "d", x0: 2032, y0: 1167, yDomain: [1160, 1240], yTicks: busTicks, yFmt: intFmt,
    yLabel: [{t: "DC bus voltage(V)"}], yLabelX: -189,
    series: [
      { data: onGrid(busMppt, 0, busMpptStep), color: "#f3d96c", width: 4, label: "MPPT Control" },
      { data: busFpcStart.concat(onGrid(busFpc, busStep, busStep)), color: "#1ec8f2", width: 4.5, label: "VSG-FPC" },
      { data: busPacStart.concat(onGrid(busPac, busStep, busStep)), color: "#ff00ff", width: 4.5, label: "VSG-PAC" }
    ],
    legend: { x: 818, y: 37, w: 466, h: 166, lx1: 836, lx2: 1011, tx: 1025, rows: [70, 121, 170] },
    caption: { bold: "d", rest: " DC bus voltage", x: 2322, y: 2168, len: 690 } },
  { id: "e", x0: 214, y0: 2266, yDomain: [4, 16], yTicks: inertiaTicks, yFmt: intFmt,
    yLabel: [{t: "Virtual moment of inertia(kg\u00b7m"}, {t: "2", sup: true}, {t: ")", after: true}], yLabelX: -130,
    series: [
      { data: inertiaFpc, color: "#000000", width: 4, label: "VSG-FPC" },
      { data: onGrid(inertiaPac, 0, inertiaStep), color: "#4fc48c", width: 4.5, curve: d3.curveStepAfter, label: "VSG-PAC" }
    ],
    legend: { x: 885, y: 39, w: 403, h: 116, lx1: 906, lx2: 1078, tx: 1093, rows: [71, 122] },
    caption: { bold: "e", rest: " Comparison of change curves for", x: 129, y: 3268, len: 1329, sym: "J", symX: 1528 } },
  { id: "f", x0: 2032, y0: 2266, yDomain: [400, 1200], yTicks: dampTicks, yFmt: intFmt,
    yLabel: [{t: "Damping coefficient(N\u00b7m\u00b7s/rad)"}], yLabelX: -186,
    series: [
      { data: dampFpc, color: "#000000", width: 5, label: "VSG-FPC" },
      { data: dampPac, color: "#4fc48c", width: 4, label: "VSG-PAC" }
    ],
    legend: { x: 885, y: 39, w: 401, h: 116, lx1: 903, lx2: 1077, tx: 1090, rows: [71, 122] },
    caption: { bold: "f", rest: " Comparison of change curves for", x: 1944, y: 3272, len: 1329, sym: "D", symX: 3329 } }
];

function styleAxis(g) {
  g.select(".domain").remove();
  g.selectAll(".tick line").attr("stroke", AXIS).attr("stroke-width", 2.5);
  g.selectAll(".tick text")
    .attr("fill", "#1a1a1a")
    .style("font-family", FONT)
    .style("font-size", "56px");
}

function drawPanel(p) {
  var g = svg.append("g").attr("transform", "translate(" + p.x0 + "," + p.y0 + ")");
  var x = d3.scaleLinear().domain([0, 16]).range([0, PW]);
  var y = d3.scaleLinear().domain(p.yDomain).range([PH, 0]);

  g.append("clipPath").attr("id", "clip-" + p.id)
    .append("rect").attr("width", PW).attr("height", PH);

  // axes, MATLAB box style with inward ticks on all sides
  g.append("g").attr("transform", "translate(0," + PH + ")")
    .call(d3.axisBottom(x).tickValues(timeTicks).tickSize(-14).tickPadding(39).tickFormat(intFmt))
    .call(styleAxis);
  g.append("g")
    .call(d3.axisLeft(y).tickValues(p.yTicks).tickSize(-14).tickPadding(27).tickFormat(p.yFmt))
    .call(styleAxis);
  g.append("g")
    .call(d3.axisTop(x).tickValues(timeTicks).tickSize(-14).tickFormat(""))
    .call(styleAxis);
  g.append("g").attr("transform", "translate(" + PW + ",0)")
    .call(d3.axisRight(y).tickValues(p.yTicks).tickSize(-14).tickFormat(""))
    .call(styleAxis);

  // data lines
  var plot = g.append("g").attr("clip-path", "url(#clip-" + p.id + ")");
  p.series.forEach(function(s) {
    var line = d3.line()
      .x(function(d) { return x(d[0]); })
      .y(function(d) { return y(d[1]); })
      .curve(s.curve || d3.curveLinear);
    plot.append("path")
      .attr("d", line(s.data))
      .attr("fill", "none")
      .attr("stroke", s.color)
      .attr("stroke-width", s.width)
      .attr("stroke-dasharray", s.dash || null)
      .attr("stroke-linejoin", "round");
  });

  g.append("rect").attr("width", PW).attr("height", PH)
    .attr("fill", "none").attr("stroke", AXIS).attr("stroke-width", 3);

  // x label
  g.append("text")
    .attr("x", PW / 2).attr("y", PH + 150)
    .attr("text-anchor", "middle")
    .style("font-family", FONT).style("font-size", "57px").attr("fill", "#1a1a1a")
    .text("Time(s)");

  // y label
  var yl = g.append("text")
    .attr("transform", "translate(" + p.yLabelX + "," + (PH / 2) + ") rotate(-90)")
    .attr("text-anchor", "middle")
    .attr("dy", "0.35em")
    .style("font-family", FONT).style("font-size", "59px")
    .attr("fill", "#1a1a1a");
  p.yLabel.forEach(function(part) {
    var ts = yl.append("tspan").text(part.t);
    if (part.italic) ts.style("font-style", "italic");
    if (part.sup) ts.attr("dy", -24).style("font-size", "42px");
    if (part.after) ts.attr("dy", 24);
  });

  // legend
  var L = p.legend;
  var lg = g.append("g");
  lg.append("rect").attr("x", L.x).attr("y", L.y).attr("width", L.w).attr("height", L.h)
    .attr("fill", "#fff").attr("stroke", AXIS).attr("stroke-width", 2.5);
  p.series.forEach(function(s, i) {
    lg.append("line")
      .attr("x1", L.lx1).attr("x2", L.lx2).attr("y1", L.rows[i]).attr("y2", L.rows[i])
      .attr("stroke", s.color).attr("stroke-width", 5.5)
      .attr("stroke-dasharray", s.dash || null);
    lg.append("text")
      .attr("x", L.tx).attr("y", L.rows[i]).attr("dy", "0.35em")
      .style("font-family", FONT).style("font-size", "41px").attr("fill", "#111")
      .text(s.label);
  });

  // caption
  var c = p.caption;
  var ct = svg.append("text")
    .attr("x", c.x).attr("y", c.y)
    .attr("textLength", c.len).attr("lengthAdjust", "spacingAndGlyphs")
    .style("font-family", FONT).style("font-size", "80px").attr("fill", "#111");
  ct.append("tspan").text("(");
  ct.append("tspan").style("font-weight", "bold").text(c.bold);
  ct.append("tspan").text(")" + c.rest);
  if (c.sym) {
    svg.append("text").attr("x", c.symX).attr("y", c.y)
      .style("font-family", FONT).style("font-size", "80px").style("font-style", "italic")
      .attr("fill", "#111").text(c.sym);
  }

  return { g: g, x: x, y: y };
}

var drawn = panels.map(drawPanel);

// ---------- extras in panel (b): zoom window, ellipse and arrow ----------
var pb = drawn[1];
var ellipseCenter = [10.73, 0.388], ellipseRadius = [1.08, 0.12];
pb.g.append("ellipse")
  .attr("cx", pb.x(ellipseCenter[0])).attr("cy", pb.y(ellipseCenter[1]))
  .attr("rx", pb.x(ellipseRadius[0]) - pb.x(0))
  .attr("ry", pb.y(0) - pb.y(ellipseRadius[1]))
  .attr("fill", "none").attr("stroke", "#111").attr("stroke-width", 2.5)
  .attr("stroke-dasharray", "10,7");

var arrowT = 10.1, arrowFrom = 0.413, arrowTo = 0.518;
var ax = pb.x(arrowT), ay0 = pb.y(arrowFrom), ay1 = pb.y(arrowTo);
pb.g.append("line").attr("x1", ax).attr("x2", ax).attr("y1", ay0).attr("y2", ay1 + 40)
  .attr("stroke", "#000").attr("stroke-width", 3);
pb.g.append("path")
  .attr("d", "M" + ax + "," + ay1 + " L" + (ax - 21) + "," + (ay1 + 56) + " L" + ax + "," + (ay1 + 44) +
    " L" + (ax + 21) + "," + (ay1 + 56) + " Z")
  .attr("fill", "#000");

// inset
var inset = pb.g.append("g").attr("transform", "translate(636,43)");
var IW = 344, IH = 197;
var ix = d3.scaleLinear().domain([10, 12]).range([0, IW]);
var iy = d3.scaleLinear().domain([0.25, 0.5]).range([IH, 0]);
inset.append("rect").attr("width", IW).attr("height", IH).attr("fill", "#fff");
function styleInset(g) {
  g.select(".domain").remove();
  g.selectAll(".tick line").attr("stroke", AXIS).attr("stroke-width", 2);
  g.selectAll(".tick text").attr("fill", "#1a1a1a")
    .style("font-family", FONT).style("font-size", "40px");
}
inset.append("g").attr("transform", "translate(0," + IH + ")")
  .call(d3.axisBottom(ix).tickValues(insetXTicks).tickSize(-8).tickPadding(18).tickFormat(intFmt))
  .call(styleInset);
inset.append("g")
  .call(d3.axisLeft(iy).tickValues(insetYTicks).tickSize(-8).tickPadding(10).tickFormat(function(d) { return String(d); }))
  .call(styleInset);
inset.append("g")
  .call(d3.axisTop(ix).tickValues(insetXTicks).tickSize(-8).tickFormat(""))
  .call(styleInset);
var iline = d3.line().x(function(d) { return ix(d[0]); }).y(function(d) { return iy(d[1]); });
inset.append("path").attr("d", iline(insetFpc)).attr("fill", "none")
  .attr("stroke", "#ee1111").attr("stroke-width", 4);
inset.append("path").attr("d", iline(insetPac)).attr("fill", "none")
  .attr("stroke", "#0000e0").attr("stroke-width", 4);
inset.append("rect").attr("width", IW).attr("height", IH)
  .attr("fill", "none").attr("stroke", AXIS).attr("stroke-width", 2.5);
</script>
</body>
</html>
